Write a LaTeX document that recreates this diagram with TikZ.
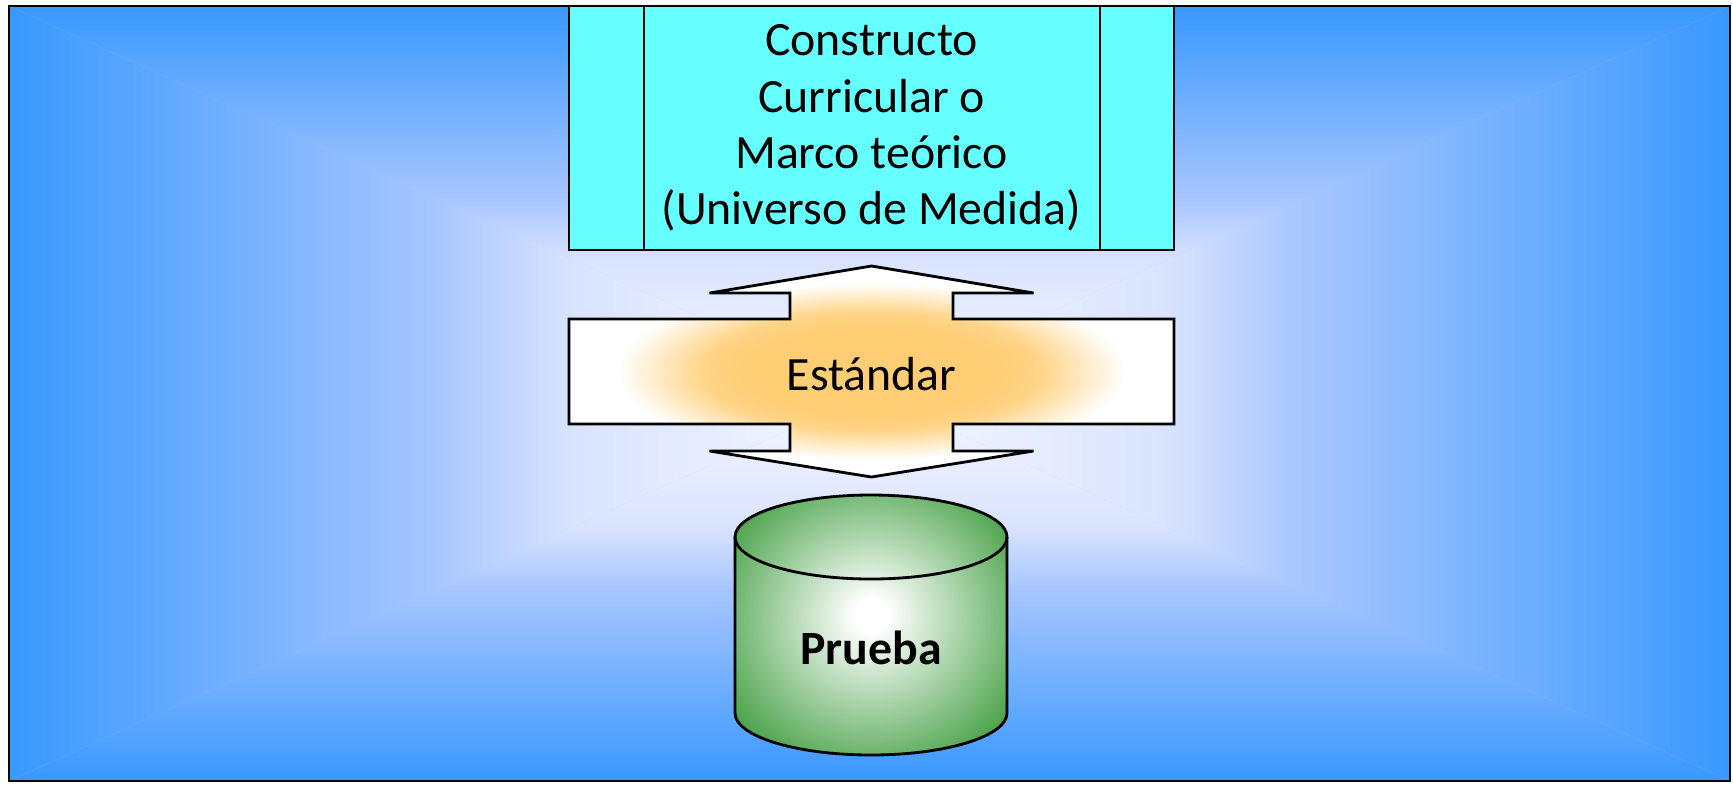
\documentclass[tikz,border=0pt]{standalone}
\usepackage{fontspec}
\setmainfont{Carlito}
\usetikzlibrary{positioning}
\definecolor{bgblue}{RGB}{56,152,255}
\definecolor{bgmid}{RGB}{168,198,255}
\definecolor{bglite}{RGB}{218,228,255}
\definecolor{bgcen}{RGB}{246,248,255}
\definecolor{boxcyan}{RGB}{102,255,255}
\definecolor{glowor}{RGB}{255,205,115}
\definecolor{cylgreen}{RGB}{50,150,50}
% background, blue at the edge
\pgfdeclarehorizontalshading{bgleft}{100bp}{color(0bp)=(bgblue); color(25bp)=(bgblue); color(50bp)=(bgmid); color(58bp)=(bglite); color(75bp)=(bgcen); color(100bp)=(bgcen)}
\pgfdeclarehorizontalshading{bgright}{100bp}{color(0bp)=(bgcen); color(25bp)=(bgcen); color(42bp)=(bglite); color(50bp)=(bgmid); color(75bp)=(bgblue); color(100bp)=(bgblue)}
\pgfdeclareverticalshading{bgbottom}{100bp}{color(0bp)=(bgblue); color(25bp)=(bgblue); color(50bp)=(bgmid); color(58bp)=(bglite); color(75bp)=(bgcen); color(100bp)=(bgcen)}
\pgfdeclareverticalshading{bgtop}{100bp}{color(0bp)=(bgcen); color(25bp)=(bgcen); color(42bp)=(bglite); color(50bp)=(bgmid); color(75bp)=(bgblue); color(100bp)=(bgblue)}
% orange glow of the arrow, green of the cylinder
\pgfdeclareradialshading{stdglow}{\pgfpoint{0bp}{0bp}}{color(0bp)=(glowor); color(10bp)=(glowor); color(14bp)=(glowor!85!white); color(21bp)=(white); color(50bp)=(white)}
\pgfdeclareradialshading{cylglow}{\pgfpoint{0bp}{2bp}}{color(0bp)=(white); color(3bp)=(white); color(35bp)=(cylgreen); color(50bp)=(cylgreen)}
\begin{document}
\begin{tikzpicture}[outline/.style={draw=black, line width=0.8pt}, font=\fontsize{13.6}{16}\selectfont]
\useasboundingbox (0,0) rectangle (17.33,7.84);
% background
\fill[bgmid] (0.09,0.03) rectangle (17.30,7.78);
\coordinate (bgc) at (8.695,3.905);
\shade[shading=bgleft] (0.09,0.03) -- (0.09,7.78) -- (bgc) -- cycle;
\shade[shading=bgright] (17.30,0.03) -- (17.30,7.78) -- (bgc) -- cycle;
\shade[shading=bgtop] (0.09,7.78) -- (17.30,7.78) -- (bgc) -- cycle;
\shade[shading=bgbottom] (0.09,0.03) -- (17.30,0.03) -- (bgc) -- cycle;
\draw[outline] (0.09,0.03) rectangle (17.30,7.78);
%
\node[outline, fill=boxcyan, minimum width=6.05cm, minimum height=2.44cm, align=center, inner sep=0, outer sep=0] (marco) at (8.715,6.56) {Constructo\\Curricular o\\Marco teórico\\(Universo de Medida)};
\draw[outline] ([xshift=0.75cm]marco.north west) -- ([xshift=0.75cm]marco.south west);
\draw[outline] ([xshift=-0.74cm]marco.north east) -- ([xshift=-0.74cm]marco.south east);
%
\shadedraw[outline, shading=stdglow] (8.715,5.18) -- (10.335,4.91) -- (9.53,4.91) -- (9.53,4.65) -- (11.74,4.65) -- (11.74,3.60) -- (9.53,3.60) -- (9.53,3.33) -- (10.335,3.33) -- (8.715,3.07) -- (7.095,3.33) -- (7.90,3.33) -- (7.90,3.60) -- (5.69,3.60) -- (5.69,4.65) -- (7.90,4.65) -- (7.90,4.91) -- (7.095,4.91) -- cycle;
\node (estandar) at (8.715,4.10) {Estándar};
%
\shadedraw[outline, shading=cylglow] (7.35,2.47) -- (7.35,0.71) arc[start angle=180, end angle=360, x radius=1.36, y radius=0.42] -- (10.07,2.47) arc[start angle=0, end angle=180, x radius=1.36, y radius=0.42] -- cycle;
\draw[outline] (7.35,2.47) arc[start angle=180, end angle=360, x radius=1.36, y radius=0.42];
\node[font=\fontsize{13.6}{16}\selectfont\bfseries] (prueba) at (8.71,1.36) {Prueba};
\end{tikzpicture}
\end{document}
